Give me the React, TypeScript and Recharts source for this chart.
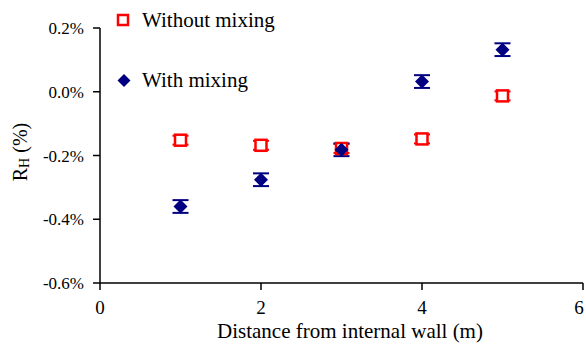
import React from 'react';
import { ScatterChart, Scatter, XAxis, YAxis, ErrorBar } from 'recharts';

const distances = [1, 2, 3, 4, 5];
const withoutMixing = [-0.152, -0.168, -0.178, -0.148, -0.013];
const withoutMixingErr = [0.014, 0.014, 0.014, 0.014, 0.014];
const withMixing = [-0.36, -0.276, -0.182, 0.032, 0.132];
const withMixingErr = [0.02, 0.02, 0.02, 0.02, 0.02];
const xTicks = [0, 2, 4, 6];
const yTicks = [-0.6, -0.4, -0.2, 0, 0.2];

const seriesA = distances.map((d, i) => ({ x: d, y: withoutMixing[i], err: withoutMixingErr[i] }));
const seriesB = distances.map((d, i) => ({ x: d, y: withMixing[i], err: withMixingErr[i] }));

const FONT = '"Liberation Serif", "Times New Roman", serif';

const Square = (props: any) => {
  const { cx, cy } = props;
  return <rect x={cx - 5.5} y={cy - 5.5} width={11} height={11} fill="#fff" stroke="#ff0000" strokeWidth={2.5} />;
};
const Diamond = (props: any) => {
  const { cx, cy } = props;
  return <path d={`M${cx},${cy - 7} L${cx + 7},${cy} L${cx},${cy + 7} L${cx - 7},${cy} Z`} fill="#000080" />;
};

const LegendBox = () => (
  <svg width={586} height={347} style={{ position: 'absolute', left: 0, top: 0, pointerEvents: 'none' }}>
    <rect x={118} y={15} width={10} height={10} fill="#fff" stroke="#ff0000" strokeWidth={2.5} />
    <text x={142} y={27} fontFamily={FONT} fontSize={21} fill="#000">Without mixing</text>
    <path d="M124,74 L130.5,80.5 L124,87 L117.5,80.5 Z" fill="#000080" />
    <text x={142} y={87} fontFamily={FONT} fontSize={21} fill="#000">With mixing</text>
  </svg>
);

const YLabel = () => {
  const cx = 20;
  const cy = 152;
  return (
    <text x={cx} y={cy} transform={`rotate(-90, ${cx}, ${cy})`} textAnchor="middle" dominantBaseline="central"
      fontFamily={FONT} fontSize={20} fill="#000">
      R<tspan fontSize={14} dy={4}>H</tspan><tspan dy={-4}> (%)</tspan>
    </text>
  );
};

const XLabel = () => (
  <text x={350} y={338} textAnchor="middle" fontFamily={FONT} fontSize={21} fill="#000">Distance from internal wall (m)</text>
);

const XTick = (props: any) => {
  const { x, payload } = props;
  return (
    <text x={Math.min(x, 579)} y={314} textAnchor="middle" fontFamily={FONT} fontSize={19} fill="#000">{payload.value}</text>
  );
};
const YTick = (props: any) => {
  const { y, payload } = props;
  return (
    <text x={84} y={y + 6} textAnchor="end" fontFamily={FONT} fontSize={17} fill="#000">{`${Number(payload.value).toFixed(1)}%`}</text>
  );
};

export default function App() {
  return (
    <div style={{ position: 'absolute', left: 0, top: 0, width: 586, height: 347, background: '#fff' }}>
      <ScatterChart width={586} height={347} margin={{ top: 28, right: 3, bottom: 34, left: 40 }}>
        <XAxis type="number" dataKey="x" domain={[0, 6]} ticks={xTicks} interval={0}
          stroke="#000" strokeWidth={1.5} tickSize={7}
          tick={<XTick />} height={30}
          label={<XLabel />} />
        <YAxis type="number" dataKey="y" domain={[-0.6, 0.2]} ticks={yTicks} interval={0}
          stroke="#000" strokeWidth={1.5} tickSize={7} width={60}
          tick={<YTick />}
          label={<YLabel />} />
        <Scatter name="Without mixing" data={seriesA} shape={<Square />} isAnimationActive={false}>
          <ErrorBar dataKey="err" direction="y" width={8} stroke="#ff0000" strokeWidth={2} />
        </Scatter>
        <Scatter name="With mixing" data={seriesB} shape={<Diamond />} isAnimationActive={false}>
          <ErrorBar dataKey="err" direction="y" width={8} stroke="#000080" strokeWidth={2} />
        </Scatter>
      </ScatterChart>
      <LegendBox />
    </div>
  );
}
